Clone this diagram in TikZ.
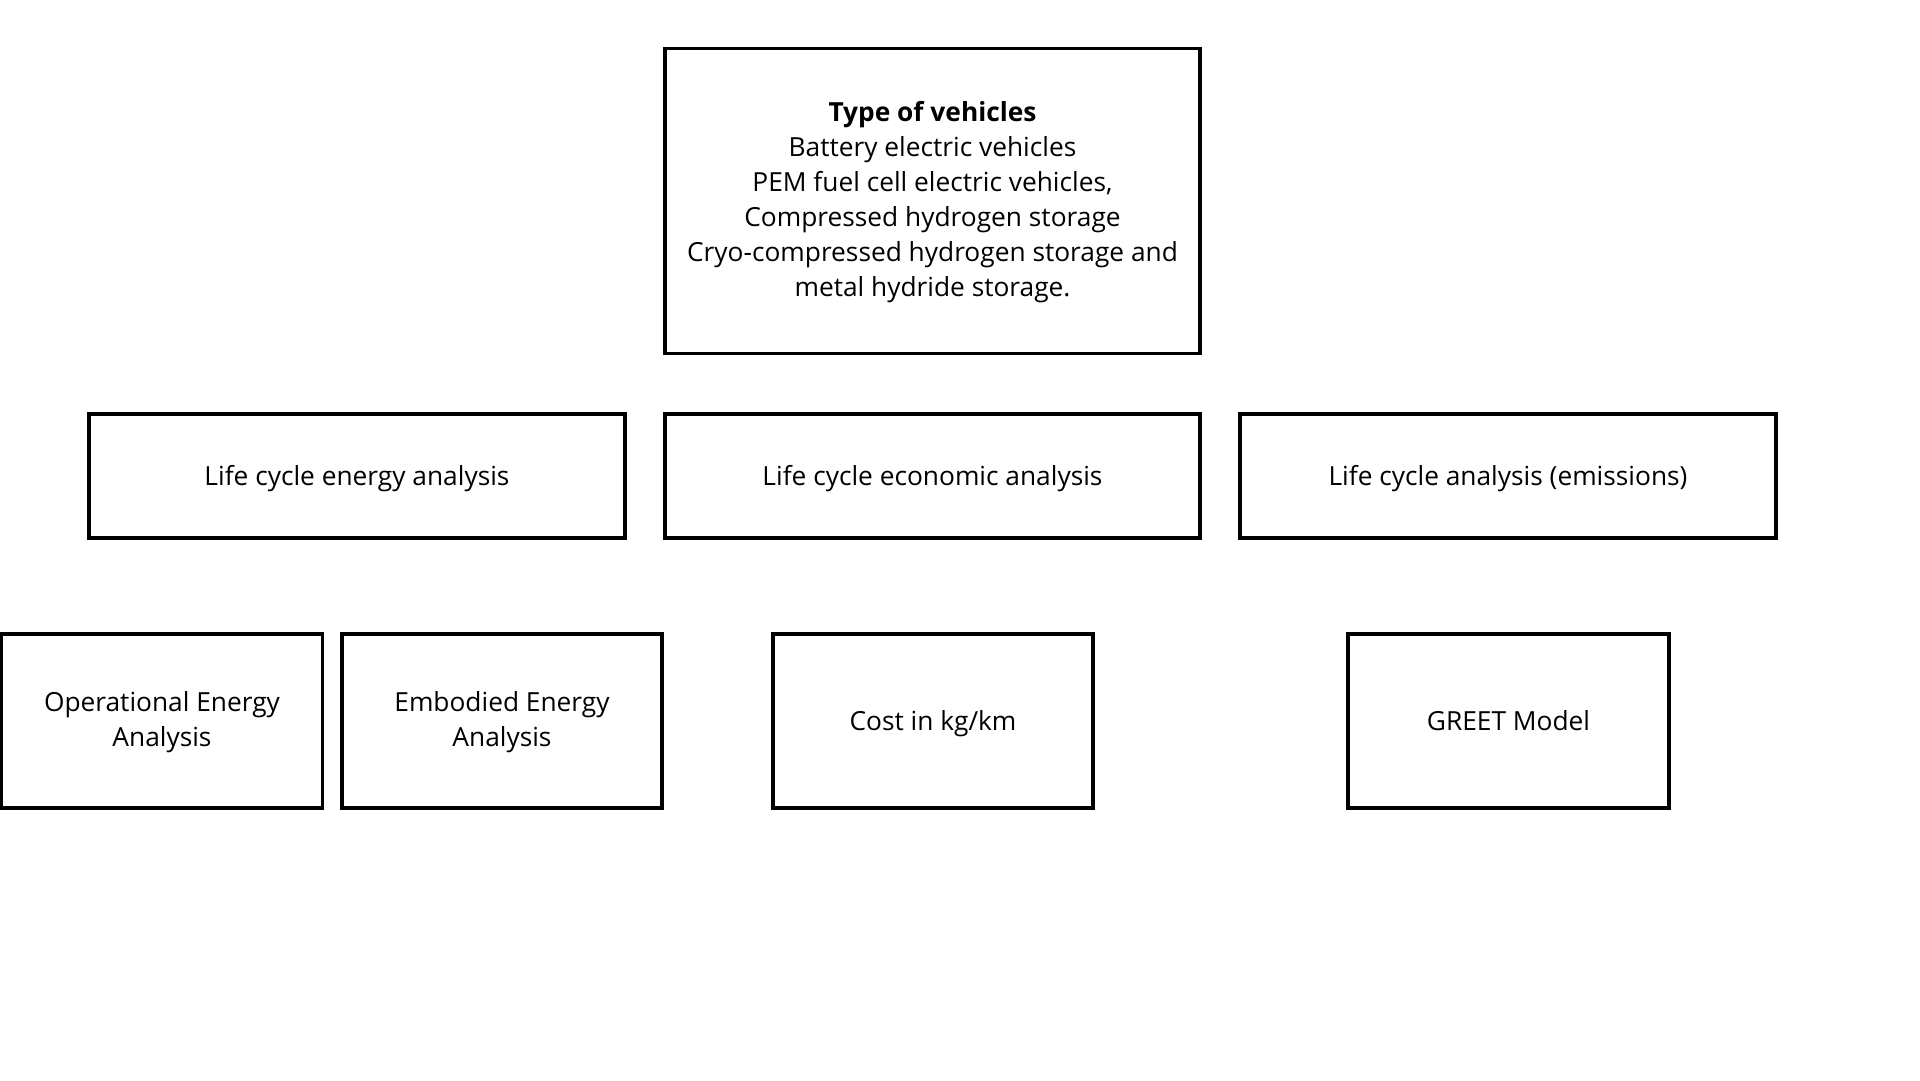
\documentclass[tikz,border=0pt]{standalone}
\usepackage{fontspec}
\setmainfont{Open Sans}
\begin{document}
\begin{tikzpicture}[x=1pt,y=-1pt,
  txt/.style={align=center,inner sep=0pt,font=\fontsize{26.3}{35}\selectfont},
  box/.style={draw=black,line width=3.5pt,fill=white,txt},
  sline/.style={text height=19pt,text depth=0pt}]
\useasboundingbox[fill=white] (0,0) rectangle (1920,1080);
\node[box,minimum width=535pt,minimum height=305pt] (top) at (932.5,201) {};
\node[txt] (toptext) at ([yshift=-1.5pt]top.center)
 {\textbf{Type of vehicles}\\Battery electric vehicles\\PEM fuel cell electric vehicles,\\Compressed hydrogen storage\\Cryo-compressed hydrogen storage and\\metal hydride storage.};
\node[box,sline,minimum width=536pt,minimum height=124pt] (energy) at (357,476) {Life cycle energy analysis};
\node[box,sline,minimum width=535pt,minimum height=124pt] (econ) at (932.5,476) {Life cycle economic analysis};
\node[box,sline,minimum width=536pt,minimum height=124pt] (emis) at (1508,476) {Life cycle analysis (emissions)};
\node[box,minimum width=321pt,minimum height=174pt] (oper) at (162,721) {};
\node[txt] (opertext) at ([yshift=-1.5pt]oper.center) {Operational Energy\\Analysis};
\node[box,minimum width=320pt,minimum height=174pt] (embo) at (502,721) {};
\node[txt] (embotext) at ([yshift=-1.5pt]embo.center) {Embodied Energy\\Analysis};
\node[box,sline,minimum width=320pt,minimum height=174pt] (cost) at (933,721) {Cost in kg/km};
\node[box,sline,minimum width=321pt,minimum height=174pt] (greet) at (1508.5,721) {GREET Model};
\end{tikzpicture}
\end{document}
